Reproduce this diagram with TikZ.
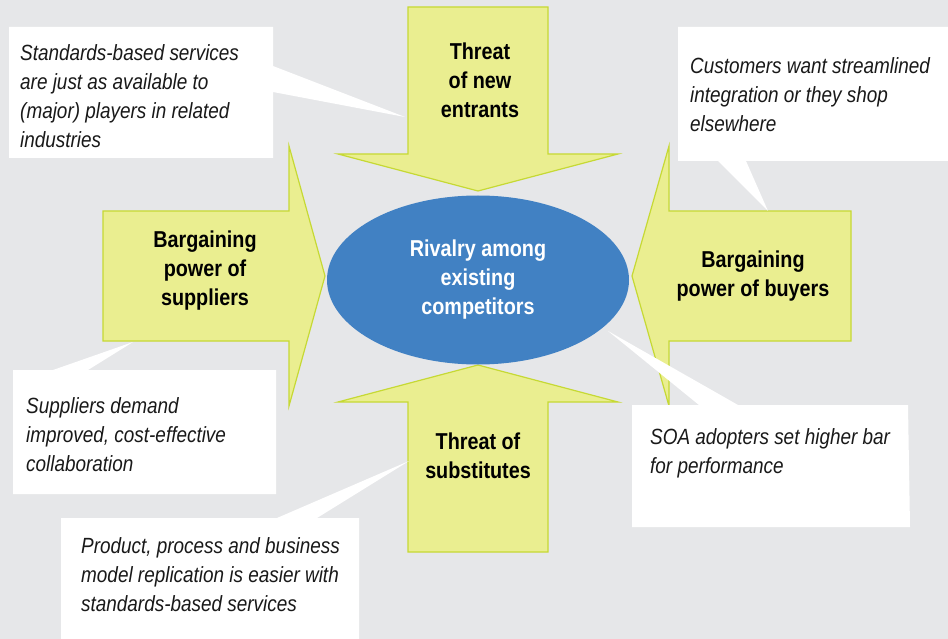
\documentclass[tikz,border=0pt]{standalone}
\usepackage{fontspec}
\setmainfont{Liberation Sans}[FakeStretch=0.86]
\usepackage{tikz}
\usetikzlibrary{
	shapes.geometric,								% ellipse
}
\definecolor{backgr}{HTML}{E6E7E9}
\definecolor{forcefill}{HTML}{EAEE90}
\definecolor{forceline}{HTML}{C6D934}
\definecolor{rivalblue}{HTML}{4181C3}

\begin{document}
\begin{tikzpicture}[x=1pt, y=-1pt,
		force/.style={fill=forcefill, draw=forceline, line width=1.2pt, line join=miter},
		forcetext/.style={font=\fontsize{23}{29}\selectfont\bfseries, align=center, text=black},
		note/.style={fill=white},
		notetext/.style={font=\fontsize{22}{29}\selectfont\itshape, align=left, anchor=west, inner sep=0pt, text=black!90}]
	\useasboundingbox (0,0) rectangle (948,639);
	\fill[backgr] (0,0) rectangle (948,639);
	% five forces
	\draw[force] (408,7) -- (548,7) -- (548,154) -- (618,154) -- (478,191) -- (338,154) -- (408,154) -- cycle;
	\draw[force] (408,552) -- (548,552) -- (548,402) -- (618,402) -- (478,365) -- (338,402) -- (408,402) -- cycle;
	\draw[force] (103,211) -- (289,211) -- (289,146) -- (325,276) -- (289,406) -- (289,341) -- (103,341) -- cycle;
	\draw[force] (851,211) -- (669,211) -- (669,146) -- (632,276) -- (669,406) -- (669,341) -- (851,341) -- cycle;
	\node[ellipse, fill=rivalblue, minimum width=302pt, minimum height=169pt, inner sep=0pt,
		forcetext, text=white] (rivalry) at (478,280) {Rivalry among\\existing\\competitors};
	\node[forcetext] (newentrants) at (480,80) {Threat\\of new\\entrants};
	\node[forcetext] (suppliers) at (205,271) {Bargaining\\power of\\suppliers};
	\node[forcetext] (buyers) at (753,276) {Bargaining\\power of buyers};
	\node[forcetext] (substitutes) at (478,456) {Threat of\\substitutes};
	% callouts
	\fill[note] (9,27) -- (273,27) -- (273,66) -- (405,117) -- (273,92) -- (273,158) -- (9,158) -- cycle;
	\fill[note] (678,27) -- (948,27) -- (948,161) -- (746,161) -- (768,211) -- (718,161) -- (678,161) -- cycle;
	\fill[note] (13,370) -- (53,370) -- (133,342) -- (88,370) -- (276,370) -- (276,494) -- (13,494) -- cycle;
	\fill[note] (61,518) -- (277,518) -- (409,461) -- (317,518) -- (359,518) -- (359,639) -- (61,639) -- cycle;
	\fill[note] (632,405) -- (699,405) -- (608,331) -- (738,405) -- (908,405) -- (910,527) -- (632,527) -- cycle;
	\node[notetext] (newnote) at (20,96) {Standards-based services\\are just as available to\\(major) players in related\\industries};
	\node[notetext] (buyernote) at (690,95) {Customers want streamlined\\integration or they shop\\elsewhere};
	\node[notetext] (suppliernote) at (26,435) {Suppliers demand\\improved, cost-effective\\collaboration};
	\node[notetext] (substnote) at (81,575) {Product, process and business\\model replication is easier with\\standards-based services};
	\node[notetext] (rivalnote) at (650,453) {SOA adopters set higher bar\\for performance};
\end{tikzpicture}
\end{document}
